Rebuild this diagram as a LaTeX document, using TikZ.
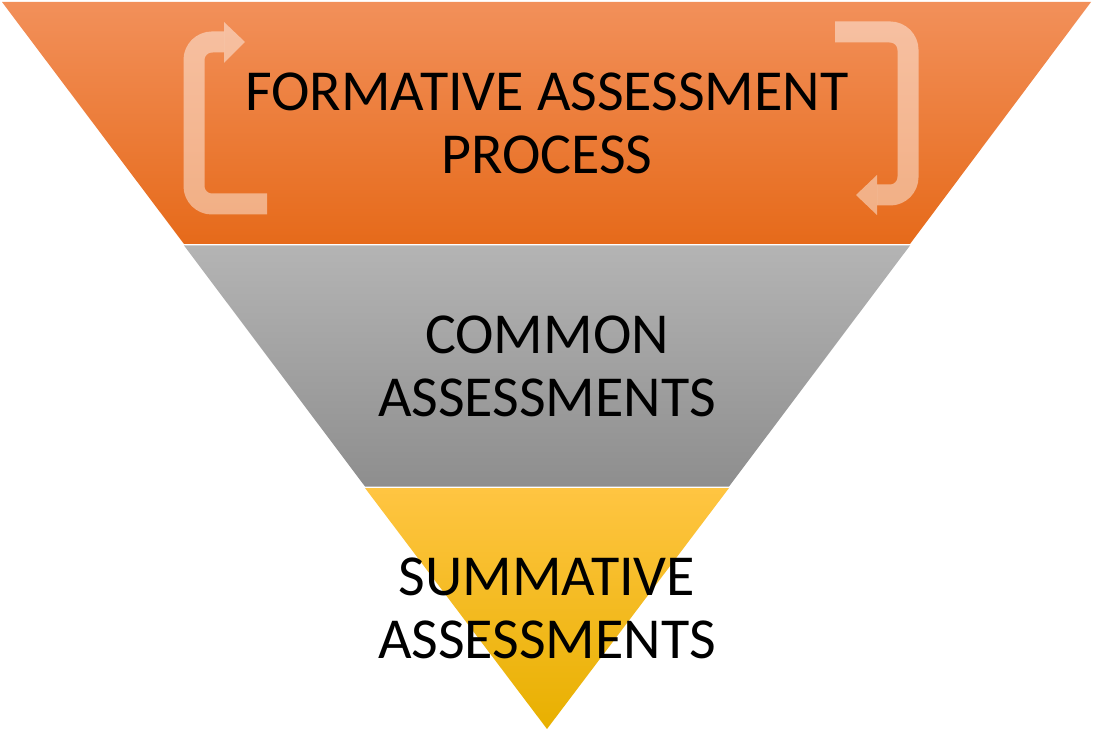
\documentclass[tikz,border=0pt]{standalone}
\usepackage{fontspec}
\setmainfont{Carlito}
\definecolor{orTop}{HTML}{F2905A}
\definecolor{orMid}{HTML}{F57F2C}
\definecolor{orBot}{HTML}{E66A1A}
\definecolor{grTop}{HTML}{B4B4B4}
\definecolor{grBot}{HTML}{8E8E8E}
\definecolor{yeTop}{HTML}{FFC542}
\definecolor{yeMid}{HTML}{FFC20A}
\definecolor{yeBot}{HTML}{E8B000}
\tikzset{
  bandlabel/.style={align=center, text=black, font=\fontsize{58}{63}\selectfont, inner sep=0pt},
  cyclearrow/.style={draw=white, draw opacity=0.45, line width=21pt, rounded corners=18pt},
  cyclehead/.style={fill=white, fill opacity=0.45, draw=none}
}
\begin{document}
\begin{tikzpicture}[x=1pt,y=-1pt]
\useasboundingbox (0,0) rectangle (1093,730);
% bands
\shade[top color=orTop, middle color=orMid, bottom color=orBot] (2,2) -- (1091,2) -- (910,244) -- (184,244) -- cycle;
\shade[top color=grTop, bottom color=grBot] (184,245.5) -- (910,245.5) -- (729,486.5) -- (365,486.5) -- cycle;
\shade[top color=yeTop, middle color=yeMid, bottom color=yeBot] (365,488) -- (729,488) -- (547,729) -- cycle;
% cycle arrows
\coordinate (la0) at (267,204);
\coordinate (la1) at (224,42);
\draw[cyclearrow] (la0) -- (194,204) -- (194,42) -- (la1);
\fill[cyclehead] (224,22) -- (245,42) -- (224,63) -- cycle;
\coordinate (ra0) at (835,32);
\coordinate (ra1) at (877,195);
\draw[cyclearrow] (ra0) -- (908,32) -- (908,195) -- (ra1);
\fill[cyclehead] (877,175) -- (856,195) -- (877,215) -- cycle;
% labels
\node[bandlabel] (formative) at (547,123) {FORMATIVE ASSESSMENT\\PROCESS};
\node[bandlabel] (common) at (547,366) {COMMON\\ASSESSMENTS};
\node[bandlabel] (summative) at (547,608) {SUMMATIVE\\ASSESSMENTS};
\end{tikzpicture}
\end{document}
